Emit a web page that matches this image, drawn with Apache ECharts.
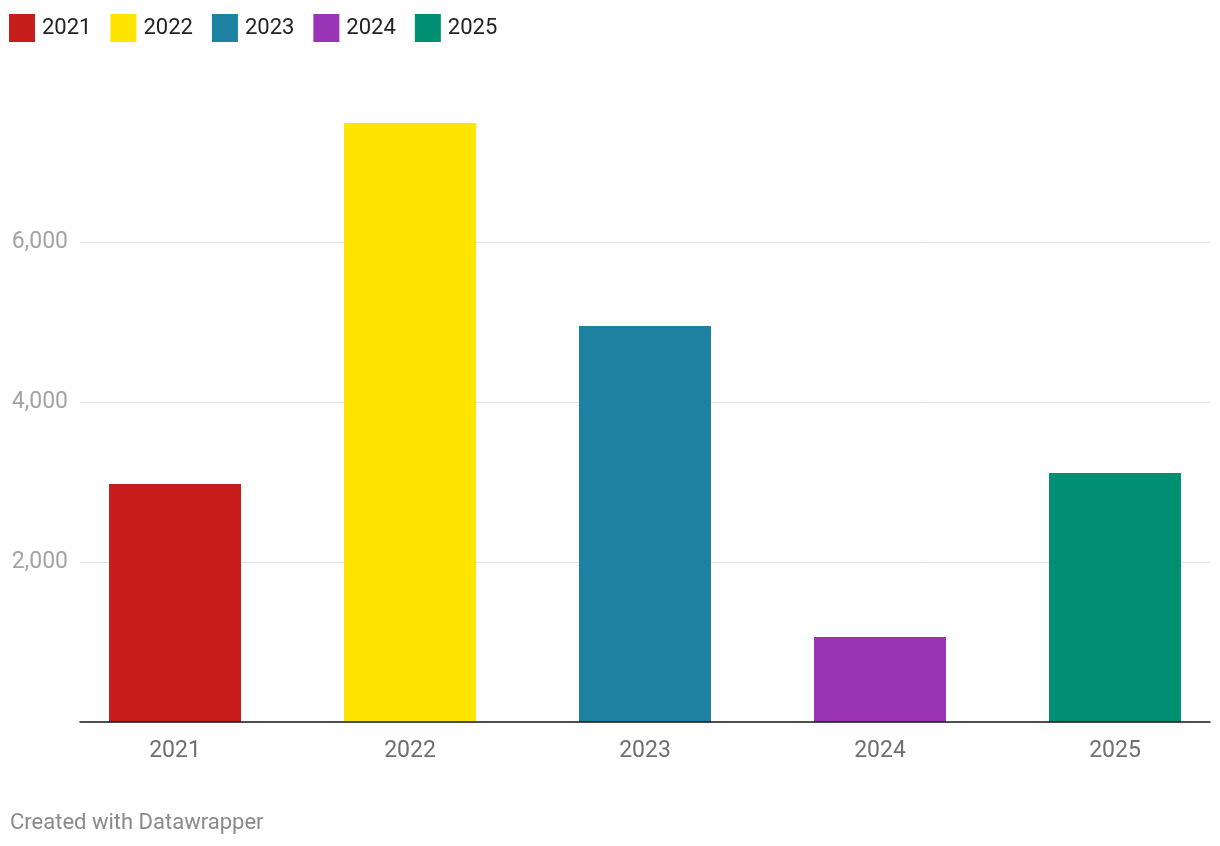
<!DOCTYPE html>
<html>
<head>
<meta charset="utf-8">
<script src="https://cdn.jsdelivr.net/npm/echarts@6/dist/echarts.min.js"></script>
<style>
html,body{margin:0;padding:0;background:#fff;}
#chart{width:1220px;height:846px;}
</style>
</head>
<body>
<div id="chart"></div>
<script>
const categories = ['2021', '2022', '2023', '2024', '2025'];
const values = [2975, 7488, 4950, 1062, 3112];
const colors = ['#c71e1d', '#ffe400', '#1d81a2', '#9a34b6', '#008f73'];
const yTicks = [0, 2000, 4000, 6000];
const yMax = 7500;
const footer = 'Created with Datawrapper';

const chart = echarts.init(document.getElementById('chart'), null, {renderer: 'canvas'});

const catIndex = categories.map((_, i) => i);

const series = categories.map((c, i) => ({
  name: c,
  type: 'bar',
  barWidth: 132,
  barGap: '-100%',
  itemStyle: {color: colors[i]},
  emphasis: {disabled: true},
  data: [[catIndex[i], values[i]]]
}));

const option = {
  animation: false,
  backgroundColor: '#ffffff',
  textStyle: {fontFamily: 'Roboto'},
  legend: {
    left: 9,
    top: 14,
    padding: 0,
    itemWidth: 26,
    itemHeight: 28,
    itemGap: 19,
    icon: 'rect',
    selectedMode: false,
    textStyle: {fontSize: 22, color: '#222222', fontFamily: 'Roboto', padding: [2, 0, 0, 2]},
    data: categories
  },
  grid: {left: 80, right: 10, top: 122, height: 600, containLabel: false},
  xAxis: {
    type: 'value',
    min: -0.4043,
    max: 4.4043,
    z: 5,
    splitLine: {show: false},
    axisLine: {show: true, onZero: false, lineStyle: {color: '#1a1a1a', width: 1.5}},
    axisTick: {show: false},
    axisLabel: {
      customValues: catIndex,
      fontSize: 23, color: '#6f6f6f', margin: 18, fontFamily: 'Roboto',
      formatter: v => categories[Math.round(v)] || ''
    }
  },
  yAxis: {
    type: 'value', min: yTicks[0], max: yMax, interval: yTicks[1] - yTicks[0],
    axisLine: {show: false}, axisTick: {show: false},
    splitLine: {show: true, showMaxLine: false, lineStyle: {color: '#e3e3e3', width: 1}},
    axisLabel: {
      fontSize: 23, color: '#a3a3a3', margin: 12, fontFamily: 'Roboto',
      showMaxLabel: false,
      formatter: v => (v === 0 || yTicks.indexOf(v) < 0) ? '' : v.toLocaleString('en-US')
    }
  },
  graphic: [
    {type: 'text', left: 10, top: 812, style: {text: footer, fontSize: 22, fill: '#8a8a8a', fontFamily: 'Roboto'}}
  ],
  series: series
};
chart.setOption(option);
</script>
</body>
</html>
